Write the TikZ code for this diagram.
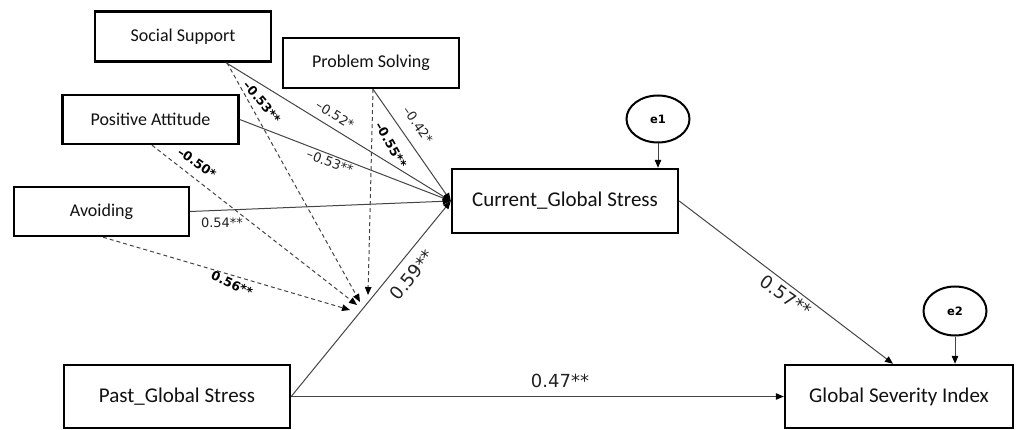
\documentclass[tikz,border=0pt]{standalone}
\usepackage{fontspec}
\setmainfont{Carlito}
\newfontfamily\lblfont{DejaVu Sans}
\usetikzlibrary{arrows.meta,shapes.geometric}
\definecolor{linegray}{HTML}{444444}
\definecolor{labelgray}{HTML}{222222}
\definecolor{boxtext}{HTML}{111111}

\begin{document}
\begin{tikzpicture}[x=1pt,y=-1pt,
  var/.style={draw=black, line width=2.4pt, fill=white, inner sep=0pt,
    text=boxtext, font=\fontsize{18}{20}\selectfont},
  bigvar/.style={var, font=\fontsize{21}{24}\selectfont},
  err/.style={ellipse, draw=black, line width=2pt, inner sep=0pt,
    font=\lblfont\bfseries\fontsize{11.5}{13}\selectfont},
  effect/.style={draw=linegray, line width=1pt,
    -{Triangle[length=8pt,width=6.5pt,color=black]}},
  moder/.style={effect, dash pattern=on 4pt off 3pt},
  coef/.style={font=\lblfont\fontsize{13}{15}\selectfont, text=labelgray, inner sep=0pt},
  coefb/.style={font=\lblfont\bfseries\fontsize{12.5}{15}\selectfont, text=black, inner sep=0pt},
  coefbig/.style={font=\lblfont\fontsize{18}{20}\selectfont, text=labelgray, inner sep=0pt},
]
\useasboundingbox (0,0) rectangle (1017,430);

% observed variables
\node[var, minimum width=176pt, minimum height=50pt] (ss) at (183,36.5) {Social Support};
\node[var, minimum width=176pt, minimum height=50pt] (ps) at (371,63) {Problem Solving};
\node[var, minimum width=176pt, minimum height=49pt] (pa) at (150.5,119.5) {Positive Attitude};
\node[var, minimum width=175pt, minimum height=49pt] (av) at (101.5,211.5) {Avoiding};
\node[bigvar, minimum width=226pt, minimum height=64pt] (cgs) at (565,201) {Current\_Global Stress};
\node[bigvar, minimum width=226pt, minimum height=63pt] (past) at (177,396.5) {Past\_Global Stress};
\node[bigvar, minimum width=228pt, minimum height=63pt] (gsi) at (899,396.5) {Global Severity Index};

% error terms
\node[err, minimum width=63pt, minimum height=47pt] (e1) at (658,119) {e1};
\node[err, minimum width=63pt, minimum height=49pt] (e2) at (955,311) {e2};

% points where the moderating paths meet the Past -> Current path
\coordinate (m1) at (360,302);
\coordinate (m2) at (357,305);
\coordinate (m3) at (350,310);
\coordinate (m4) at (368,295);

% direct effects on Current_Global Stress
\draw[effect] ([xshift=43pt]ss.south) -- (cgs.west);
\draw[effect] ([xshift=2pt]ps.south) -- (cgs.west);
\draw[effect] (pa.east) -- (cgs.west);
\draw[effect] (av.east) -- (cgs.west);
\draw[effect] (past.east) -- (cgs.west);

% moderating effects
\draw[moder] ([xshift=44pt]ss.south) -- (m1);
\draw[moder] ([xshift=1.5pt]pa.south) -- (m2);
\draw[moder] ([xshift=1.5pt]av.south) -- (m3);
\draw[moder] ([xshift=2pt]ps.south) -- (m4);

% effects on Global Severity Index
\draw[effect] (cgs.east) -- ([xshift=-6pt]gsi.north);
\draw[effect] (past.east) -- (gsi.west);
\draw[effect] (e1) -- (e1 |- cgs.north);
\draw[effect] (e2) -- (e2 |- gsi.north);

% coefficients
\node[coefb, rotate=-50] (c1) at (262,102) {–0.53**};
\node[coef, rotate=-32] (c2) at (335,115) {–0.52*};
\node[coef, rotate=-21] (c3) at (330,162) {–0.53**};
\node[coefb, rotate=-35] (c4) at (197,163) {–0.50*};
\node[coef] (c5) at (222,223) {0.54**};
\node[coefb, rotate=-25] (c6) at (232,284) {0.56**};
\node[coefb, rotate=-60] (c7) at (391,145) {–0.55**};
\node[coef, rotate=-55] (c8) at (418,125) {–0.42*};
\node[coefbig, rotate=51] (c9) at (412,275) {0.59**};
\node[coefbig, rotate=-35] (c10) at (786,296) {0.57**};
\node[coefbig] (c11) at (560,381) {0.47**};
\end{tikzpicture}
\end{document}
